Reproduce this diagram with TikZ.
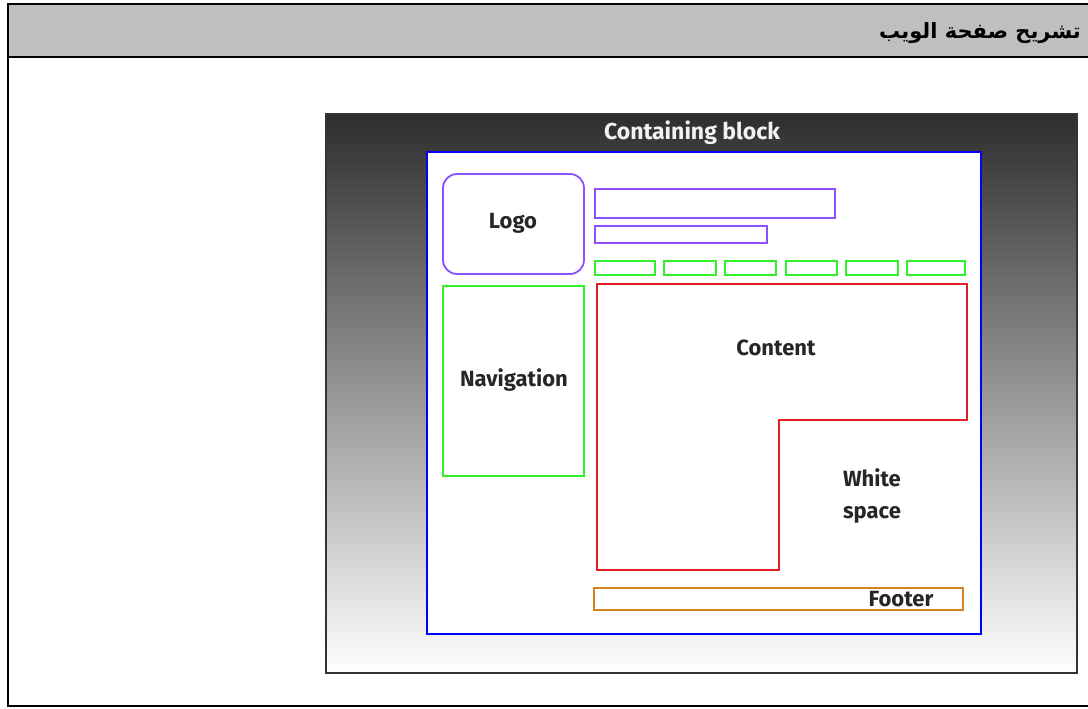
\documentclass[tikz,border=0pt]{standalone}
\usepackage{fontspec}
\setmainfont{Fira Sans}
\newfontfamily\arabicfont[Script=Arabic]{DejaVu Sans}
\TeXXeTstate=1
\definecolor{purp}{RGB}{140,80,255}
\definecolor{grn}{RGB}{50,240,40}
\definecolor{rd}{RGB}{225,30,35}
\definecolor{org}{RGB}{210,130,30}
\begin{document}
\begin{tikzpicture}[x=1pt,y=-1pt,
  lbl/.style={font=\fontsize{22}{26}\selectfont\bfseries, text=black!85, inner sep=0pt},
  purplebox/.style={draw=purp, line width=1.8pt},
  greenbox/.style={draw=grn, line width=1.8pt},
  frame/.style={draw=black, line width=2.2pt}]
\useasboundingbox (0,0) rectangle (1088,709);
% table frame
\fill[gray!50] (8,4) rectangle (1090,57);
\draw[frame] (1090,4) -- (8,4) -- (8,706) -- (1090,706);
\draw[frame] (8,57) -- (1090,57);
\node[anchor=east, inner sep=0pt, font=\arabicfont\bfseries\fontsize{21}{24}\selectfont] (title) at (1081,33) {\beginR تشريح صفحة الويب\endR};
% picture
\shade[top color=black!82, middle color=black!32, bottom color=white] (326,114) rectangle (1077,673);
\draw[black!80, line width=1.2pt] (326,114) rectangle (1077,673);
\node[font=\fontsize{23}{27}\selectfont\bfseries, text=white!95!black, inner sep=0pt] (cb) at (692,133) {Containing block};
% containing block
\draw[blue, fill=white, line width=1.8pt] (427,152) rectangle (981,634);
% logo
\draw[purplebox, rounded corners=14pt] (443,174) rectangle (584,274);
\node[lbl] (logo) at (513,223) {Logo};
\draw[purplebox] (595,189) rectangle (835,218);
\draw[purplebox] (595,226) rectangle (767,243);
% menu tabs
\foreach \a/\b in {595/655,664/716,725/776,786/837,846/898,907/965}
  \draw[greenbox] (\a,261) rectangle (\b,275);
% navigation
\draw[greenbox] (443,286) rectangle (584,476);
\node[lbl] (nav) at (514,380) {Navigation};
% content
\draw[rd, line width=1.8pt] (597,284) -- (967,284) -- (967,420) -- (779,420) -- (779,570) -- (597,570) -- cycle;
\node[lbl] (content) at (776,348) {Content};
\node[lbl, align=left, font=\fontsize{22}{32}\selectfont\bfseries] (ws) at (872,496) {White\\space};
% footer
\draw[org, line width=1.8pt] (594,588) rectangle (963,610);
\node[lbl] (footer) at (901,599) {Footer};
\end{tikzpicture}
\end{document}
